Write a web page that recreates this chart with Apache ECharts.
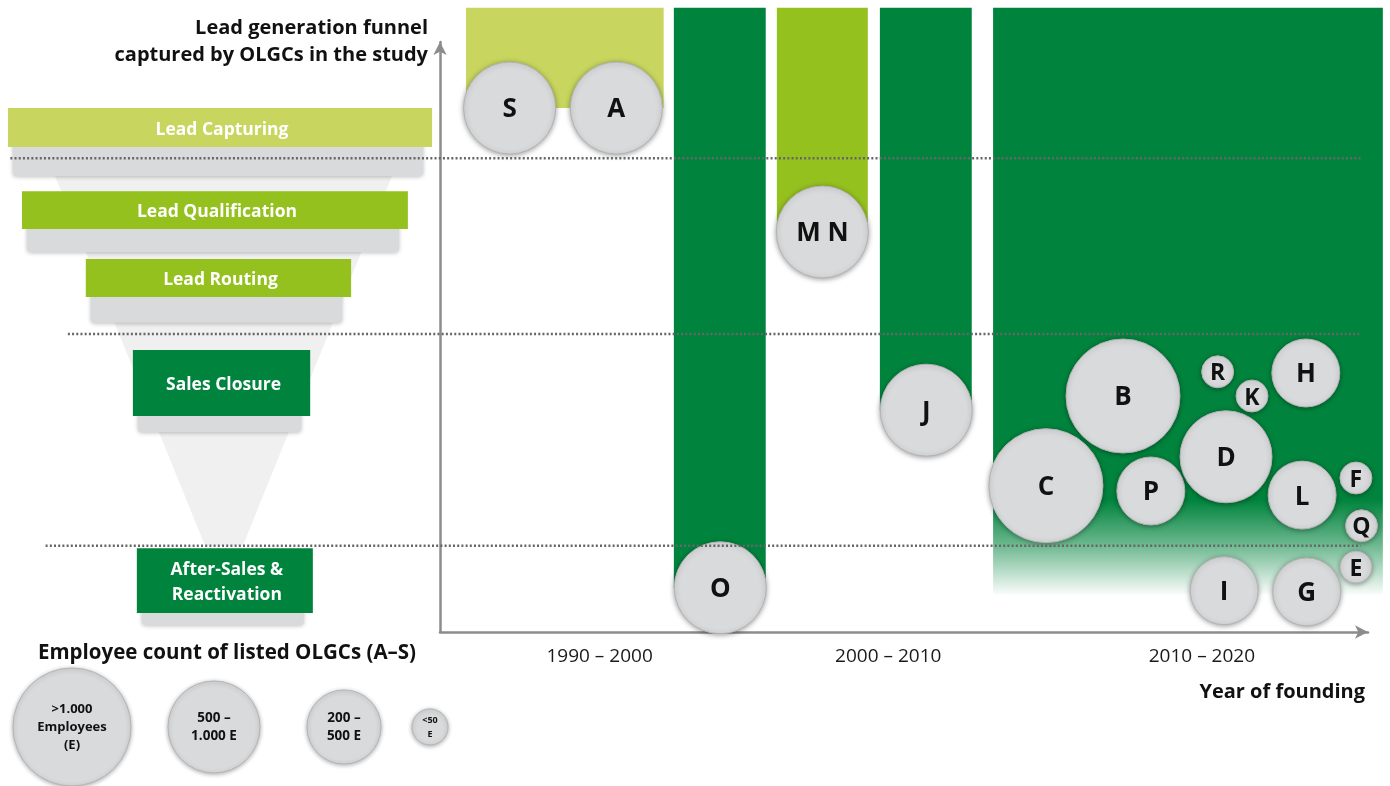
<!DOCTYPE html>
<html>
<head>
<meta charset="utf-8">
<title>Lead generation funnel</title>
<script src="https://cdn.jsdelivr.net/npm/echarts@6.0.0/dist/echarts.min.js"></script>
<style>
html, body { margin: 0; padding: 0; background: #fff; }
#main { width: 1390px; height: 786px; }
</style>
</head>
<body>
<div id="main"></div>
<script>
// funnel stages (left panel, y = depth in the funnel 0..100)
let stageNames = ['Lead Capturing', 'Lead Qualification', 'Lead Routing', 'Sales Closure', 'After-Sales &\nReactivation'];
let stageLeft = [-48.2, -45.0, -30.5, -19.8, -18.9];
let stageRight = [48.2, 42.7, 29.8, 20.5, 21.1];
let stageTop = [88.8, 74.7, 63.2, 47.8, 14.2];
let stageBottom = [82.2, 68.3, 56.8, 36.6, 3.2];
let stageTray = [4.9, 3.9, 4.4, 2.7, 2.0];
let stageTone = [0, 1, 1, 2, 2];
let coneOutline = [[-37.5, 77.3], [39.1, 77.3], [5.2, 14.6], [-3.4, 14.6]];

// stage borders drawn as dotted lines
let borderLevels = [80.3, 50.5, 14.6];
let borderStart = [-46.3, -40.1, -42.5];
let borderEnd = 99.2;

// founding decades on the x axis
let decadeLabels = ['1990 – 2000', '2000 – 2010', '2010 – 2020'];
let decadeCenters = [17.2, 48.3, 82.1];

// coverage bars hanging from the top: [x0, x1, lowest stage reached, tone]
let barTop = 105.8;
let fadeStart = 22.4;
let coverageBars = [
    [2.8, 24.1, 88.8, 0],
    [25.2, 35.1, 7.5, 2],
    [36.3, 46.1, 67.8, 1],
    [47.4, 57.3, 37.6, 2],
    [59.6, 101.6, 6.3, 3]
];

// listed OLGCs A-S
let companyNames = ['S', 'A', 'M N', 'O', 'J', 'B', 'C', 'P', 'D', 'R', 'K', 'H', 'L', 'F', 'Q', 'E', 'I', 'G'];
let companyX = [7.5, 19.0, 41.2, 30.2, 52.4, 73.6, 65.3, 76.6, 84.7, 83.8, 87.5, 93.3, 92.9, 98.7, 99.3, 98.7, 84.5, 93.4];
let companyY = [88.8, 88.8, 67.8, 7.5, 37.6, 40.0, 24.8, 23.9, 29.7, 44.1, 40.0, 43.9, 23.2, 26.1, 18.0, 11.0, 7.0, 6.8];
// 0: >1.000 E, 1: 500-1.000 E, 2: 200-500 E, 3: <50 E
let companyBand = [1, 1, 1, 1, 1, 0, 0, 2, 1, 3, 3, 2, 2, 3, 3, 3, 2, 2];
let bandLabels = ['>1.000\nEmployees\n(E)', '500 –\n1.000 E', '200 –\n500 E', '<50\nE'];

let FONT = '"Open Sans", "Noto Sans", sans-serif';
let toneColors = ['#c8d65f', '#95c11f', '#00843d', '#00843d'];
let bandSizes = [114, 92, 68, 32];

let myChart = echarts.init(document.getElementById('main'));

function renderBar(params, api) {
    let p0 = api.coord([api.value(0), barTop]);
    let p1 = api.coord([api.value(1), api.value(2)]);
    let tone = api.value(3);
    let fill = toneColors[tone];
    if (tone === 3) {
        let fy = api.coord([0, fadeStart])[1];
        let k = (fy - p0[1]) / (p1[1] - p0[1]);
        fill = new echarts.graphic.LinearGradient(0, 0, 0, 1, [
            {offset: 0, color: '#00843d'},
            {offset: k, color: '#00843d'},
            {offset: k + (1 - k) * 0.45, color: 'rgba(0,132,61,0.6)'},
            {offset: 1, color: 'rgba(0,132,61,0.02)'}
        ]);
    }
    return {
        type: 'rect',
        shape: {x: p0[0], y: p0[1], width: p1[0] - p0[0], height: p1[1] - p0[1]},
        style: {fill: fill}
    };
}

function renderStage(params, api) {
    let i = params.dataIndex;
    let a = api.coord([stageLeft[i], stageTop[i]]);
    let b = api.coord([stageRight[i], stageBottom[i]]);
    let t = api.coord([0, stageBottom[i] - stageTray[i]]);
    return {
        type: 'group',
        children: [
            {
                type: 'rect',
                shape: {x: a[0] + 5, y: b[1] - 4, width: b[0] - a[0] - 14, height: t[1] - b[1] + 4, r: [0, 0, 4, 4]},
                style: {fill: '#d9dadb', shadowBlur: 4, shadowColor: 'rgba(0,0,0,0.25)', shadowOffsetY: 1}
            },
            {
                type: 'rect',
                shape: {x: a[0], y: a[1], width: b[0] - a[0], height: b[1] - a[1]},
                style: {fill: toneColors[stageTone[i]]}
            },
            {
                type: 'text',
                style: {
                    text: stageNames[i],
                    x: (a[0] + b[0]) / 2 + 2,
                    y: (a[1] + b[1]) / 2 + 2,
                    align: 'center',
                    verticalAlign: 'middle',
                    fill: '#fff',
                    font: 'bold 17.5px ' + FONT,
                    lineHeight: 25
                }
            }
        ]
    };
}

function renderCone(params, api) {
    return {
        type: 'polygon',
        shape: {points: coneOutline.map(function (p) { return api.coord(p); })},
        style: {fill: '#f0f0f0'}
    };
}

function renderBorder(params, api) {
    let p0 = api.coord([api.value(0), api.value(1)]);
    let p1 = api.coord([borderEnd, api.value(1)]);
    return {
        type: 'line',
        shape: {x1: p0[0], y1: p0[1], x2: p1[0], y2: p1[1]},
        style: {stroke: '#666', lineWidth: 2.5, lineDash: [2, 2.2]}
    };
}

let bubbles = companyNames.map(function (n, i) {
    return {
        name: n,
        value: [companyX[i], companyY[i], companyBand[i]],
        label: {fontSize: companyBand[i] === 3 ? 23 : 26}
    };
});

// legend circles for the employee bands
let legendX = [72, 214, 344, 430];
let legendR = [59, 46, 37, 18];
let legendFont = [13, 13.5, 13.5, 9];
let legendGraphics = bandLabels.map(function (lab, i) {
    return {
        type: 'group',
        children: [
            {
                type: 'circle',
                shape: {cx: legendX[i], cy: 727, r: legendR[i]},
                style: {fill: '#d9dadb', stroke: '#b5b5b5', lineWidth: 1, shadowBlur: 4, shadowColor: 'rgba(0,0,0,0.3)', shadowOffsetY: 1}
            },
            {
                type: 'text',
                style: {
                    text: lab, x: legendX[i], y: 727, align: 'center', verticalAlign: 'middle',
                    fill: '#111', font: 'bold ' + legendFont[i] + 'px ' + FONT,
                    lineHeight: legendFont[i] + 5
                }
            }
        ]
    };
});

myChart.setOption({
    animation: false,
    backgroundColor: '#fff',
    grid: [
        {left: 440, top: 42, width: 928, height: 590},
        {left: 0, top: 42, width: 440, height: 590}
    ],
    xAxis: [
        {
            gridIndex: 0, type: 'value', min: 0, max: 100,
            axisLine: {show: true, symbol: ['none', 'arrow'], symbolSize: [10, 13], lineStyle: {color: '#8c8c8c', width: 2.5}},
            axisTick: {show: false},
            splitLine: {show: false},
            axisLabel: {
                customValues: decadeCenters,
                formatter: function (v) {
                    let k = decadeCenters.indexOf(v);
                    return k >= 0 ? decadeLabels[k] : '';
                },
                color: '#1a1a1a', fontSize: 19, fontFamily: FONT, margin: 15
            }
        },
        {gridIndex: 1, type: 'value', min: -50, max: 50, show: false}
    ],
    yAxis: [
        {
            gridIndex: 0, type: 'value', min: 0, max: 100,
            axisLine: {show: true, symbol: ['none', 'arrow'], symbolSize: [10, 13], lineStyle: {color: '#8c8c8c', width: 2.5}},
            axisTick: {show: false},
            axisLabel: {show: false},
            splitLine: {show: false}
        },
        {gridIndex: 1, type: 'value', min: 0, max: 100, show: false}
    ],
    graphic: [
        {
            type: 'text', z: 20,
            style: {
                text: 'Lead generation funnel\ncaptured by OLGCs in the study',
                x: 428, y: 15, align: 'right', verticalAlign: 'top',
                fill: '#111', font: 'bold 20px ' + FONT, lineHeight: 27
            }
        },
        {
            type: 'text', z: 20,
            style: {
                text: 'Year of founding', x: 1365, y: 692, align: 'right', verticalAlign: 'middle',
                fill: '#111', font: 'bold 20px ' + FONT
            }
        },
        {
            type: 'text', z: 20,
            style: {
                text: 'Employee count of listed OLGCs (A–S)', x: 38, y: 653, align: 'left', verticalAlign: 'middle',
                fill: '#111', font: 'bold 20.5px ' + FONT
            }
        }
    ].concat(legendGraphics),
    series: [
        {
            type: 'custom', name: 'cone', xAxisIndex: 1, yAxisIndex: 1, z: 1, clip: false,
            renderItem: renderCone, data: [0]
        },
        {
            type: 'custom', name: 'stages', xAxisIndex: 1, yAxisIndex: 1, z: 2, clip: false,
            renderItem: renderStage, data: stageNames.map(function (n, i) { return [stageLeft[i], stageTop[i]]; })
        },
        {
            type: 'custom', name: 'coverage', xAxisIndex: 0, yAxisIndex: 0, z: 2, clip: false,
            renderItem: renderBar, data: coverageBars
        },
        {
            type: 'scatter', name: 'OLGCs', xAxisIndex: 0, yAxisIndex: 0, z: 5, clip: false,
            data: bubbles,
            symbolSize: function (v) { return bandSizes[v[2]]; },
            itemStyle: {
                color: '#d9dadb', borderColor: '#b3b3b3', borderWidth: 1, opacity: 1,
                shadowBlur: 5, shadowColor: 'rgba(0,0,0,0.35)', shadowOffsetY: 1
            },
            label: {show: true, position: 'inside', offset: [0, 2], formatter: '{b}', color: '#111', fontWeight: 'bold', fontFamily: FONT},
            emphasis: {disabled: true}
        },
        {
            type: 'custom', name: 'borders', xAxisIndex: 0, yAxisIndex: 0, z: 10, clip: false,
            renderItem: renderBorder, data: borderLevels.map(function (y, i) { return [borderStart[i], y]; })
        }
    ]
});
</script>
</body>
</html>
